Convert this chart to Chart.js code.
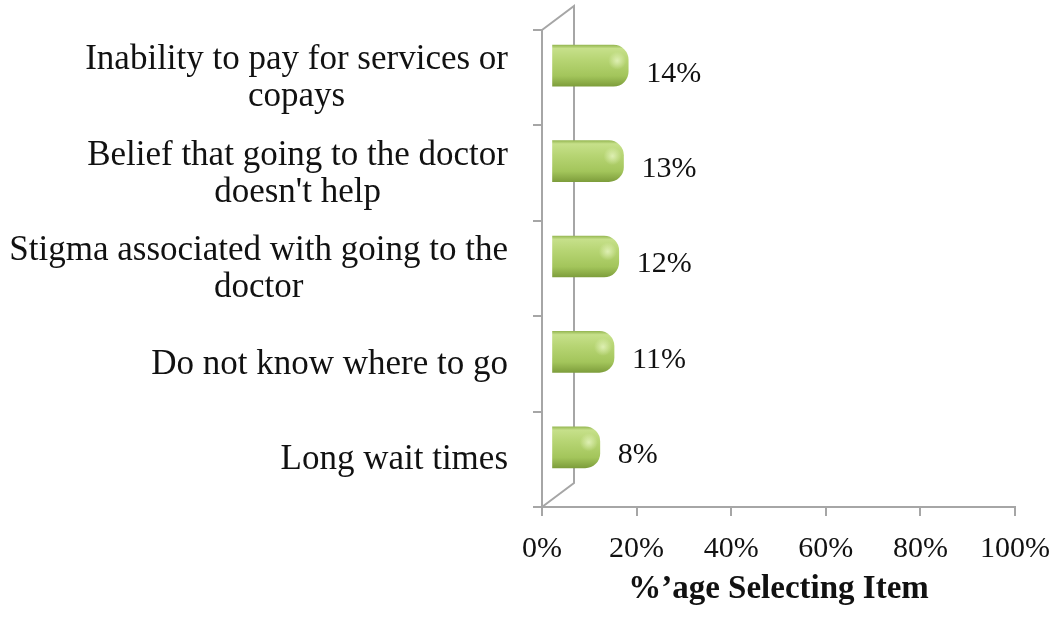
<!DOCTYPE html>
<html>
<head>
<meta charset="utf-8">
<script src="https://cdn.jsdelivr.net/npm/chart.js@4"></script>
<style>
  html, body { margin: 0; padding: 0; background: #fff; }
  #wrap { width: 1050px; height: 617px; }
</style>
</head>
<body>
<div id="wrap"><canvas id="barriersChart" width="1050" height="617"></canvas></div>
<script>
// data
const categories = [
    ['Inability to pay for services or', 'copays'],
    ['Belief that going to the doctor', "doesn't help"],
    ['Stigma associated with going to the', 'doctor'],
    ['Do not know where to go'],
    ['Long wait times']
];
const values = [14, 13, 12, 11, 8];
const xTicks = [0, 20, 40, 60, 80, 100];
const xTitle = '%\u2019age Selecting Item';

const FONT = "'Liberation Serif', 'Times New Roman', serif";
const AXIS_GRAY = '#a6a6a6';
// fake 3D depth of the plot (back wall offset) and bar shift
const DEPTH = { x: 32, y: -24 };
const BAR_SHIFT = { x: 20, y: -12 };

function barGradient(c) {
    const chart = c.chart;
    const ys = chart.scales.y;
    if (!ys || !chart.chartArea) return '#a4c85a';
    const y = ys.getPixelForValue(c.dataIndex);
    const g = chart.ctx.createLinearGradient(0, y - 20.5, 0, y + 20.5);
    g.addColorStop(0, '#98b955');
    g.addColorStop(0.08, '#c6e08a');
    g.addColorStop(0.35, '#b7d574');
    g.addColorStop(0.75, '#a3c55b');
    g.addColorStop(1, '#7e9e3c');
    return g;
}

const depthPlugin = {
    id: 'depth',
    beforeDatasetsDraw(chart) {
        const { ctx, chartArea: a } = chart;
        // back wall edges
        ctx.save();
        ctx.strokeStyle = AXIS_GRAY;
        ctx.lineWidth = 2;
        ctx.beginPath();
        ctx.moveTo(a.left, a.top);
        ctx.lineTo(a.left + DEPTH.x, a.top + DEPTH.y);
        ctx.lineTo(a.left + DEPTH.x, a.bottom + DEPTH.y);
        ctx.lineTo(a.left, a.bottom);
        ctx.stroke();
        ctx.restore();
        ctx.save();
        ctx.translate(BAR_SHIFT.x, BAR_SHIFT.y);
    },
    afterDatasetsDraw(chart) {
        const { ctx } = chart;
        // little shine near the rounded end of each bar
        chart.getDatasetMeta(0).data.forEach(el => {
            const hx = el.x - 11, hy = el.y - 5;
            const r = ctx.createRadialGradient(hx, hy, 0, hx, hy, 9);
            r.addColorStop(0, 'rgba(235,248,200,0.75)');
            r.addColorStop(1, 'rgba(235,248,200,0)');
            ctx.fillStyle = r;
            ctx.fillRect(hx - 10, hy - 10, 20, 20);
        });
        ctx.restore();

        // value labels
        ctx.save();
        ctx.fillStyle = '#111';
        ctx.font = '30px ' + FONT;
        ctx.textAlign = 'left';
        ctx.textBaseline = 'middle';
        chart.getDatasetMeta(0).data.forEach((el, i) => {
            ctx.fillText(values[i] + '%', el.x + BAR_SHIFT.x + 18, el.y - 4);
        });

        // category labels: block right aligned, lines centred inside the block
        const ys = chart.scales.y;
        ctx.font = '35px ' + FONT;
        ctx.textAlign = 'center';
        const right = chart.chartArea.left - 34;
        categories.forEach((lines, i) => {
            const w = Math.max(...lines.map(t => ctx.measureText(t).width));
            const cx = right - w / 2;
            const cy = ys.getPixelForTick(i) + 1;
            lines.forEach((t, k) => {
                ctx.fillText(t, cx, cy + (k - (lines.length - 1) / 2) * 37);
            });
        });
        ctx.restore();
    }
};

const ctx = document.getElementById('barriersChart').getContext('2d');
new Chart(ctx, {
    type: 'bar',
    data: {
        labels: categories,
        datasets: [{
            data: values,
            base: -2,
            clip: false,
            backgroundColor: barGradient,
            borderWidth: 0,
            borderRadius: 15,
            borderSkipped: 'start',
            barThickness: 41
        }]
    },
    options: {
        indexAxis: 'y',
        responsive: false,
        animation: false,
        layout: { padding: { top: 30, right: 35, bottom: 0, left: 0 } },
        plugins: {
            legend: { display: false },
            tooltip: { enabled: false }
        },
        scales: {
            x: {
                min: 0,
                max: 100,
                afterBuildTicks: s => { s.ticks = xTicks.map(v => ({ value: v })); },
                afterFit: s => { s.height = 110; s.paddingLeft = 0; s.paddingRight = 0; },
                ticks: {
                    callback: v => v + '%',
                    color: '#111',
                    font: { family: FONT, size: 30 },
                    padding: 15,
                    maxRotation: 0
                },
                grid: {
                    drawOnChartArea: false,
                    color: AXIS_GRAY,
                    lineWidth: 2,
                    tickLength: 9
                },
                border: { color: AXIS_GRAY, width: 2 },
                title: {
                    display: true,
                    text: xTitle,
                    color: '#111',
                    font: { family: FONT, size: 33, weight: 'bold' },
                    padding: { top: 0, bottom: 8 }
                }
            },
            y: {
                afterFit: s => { s.width = 542; },
                ticks: { display: false },
                grid: {
                    drawOnChartArea: false,
                    color: AXIS_GRAY,
                    lineWidth: 2,
                    tickLength: 9
                },
                border: { color: AXIS_GRAY, width: 2 }
            }
        }
    },
    plugins: [depthPlugin]
});
</script>
</body>
</html>
